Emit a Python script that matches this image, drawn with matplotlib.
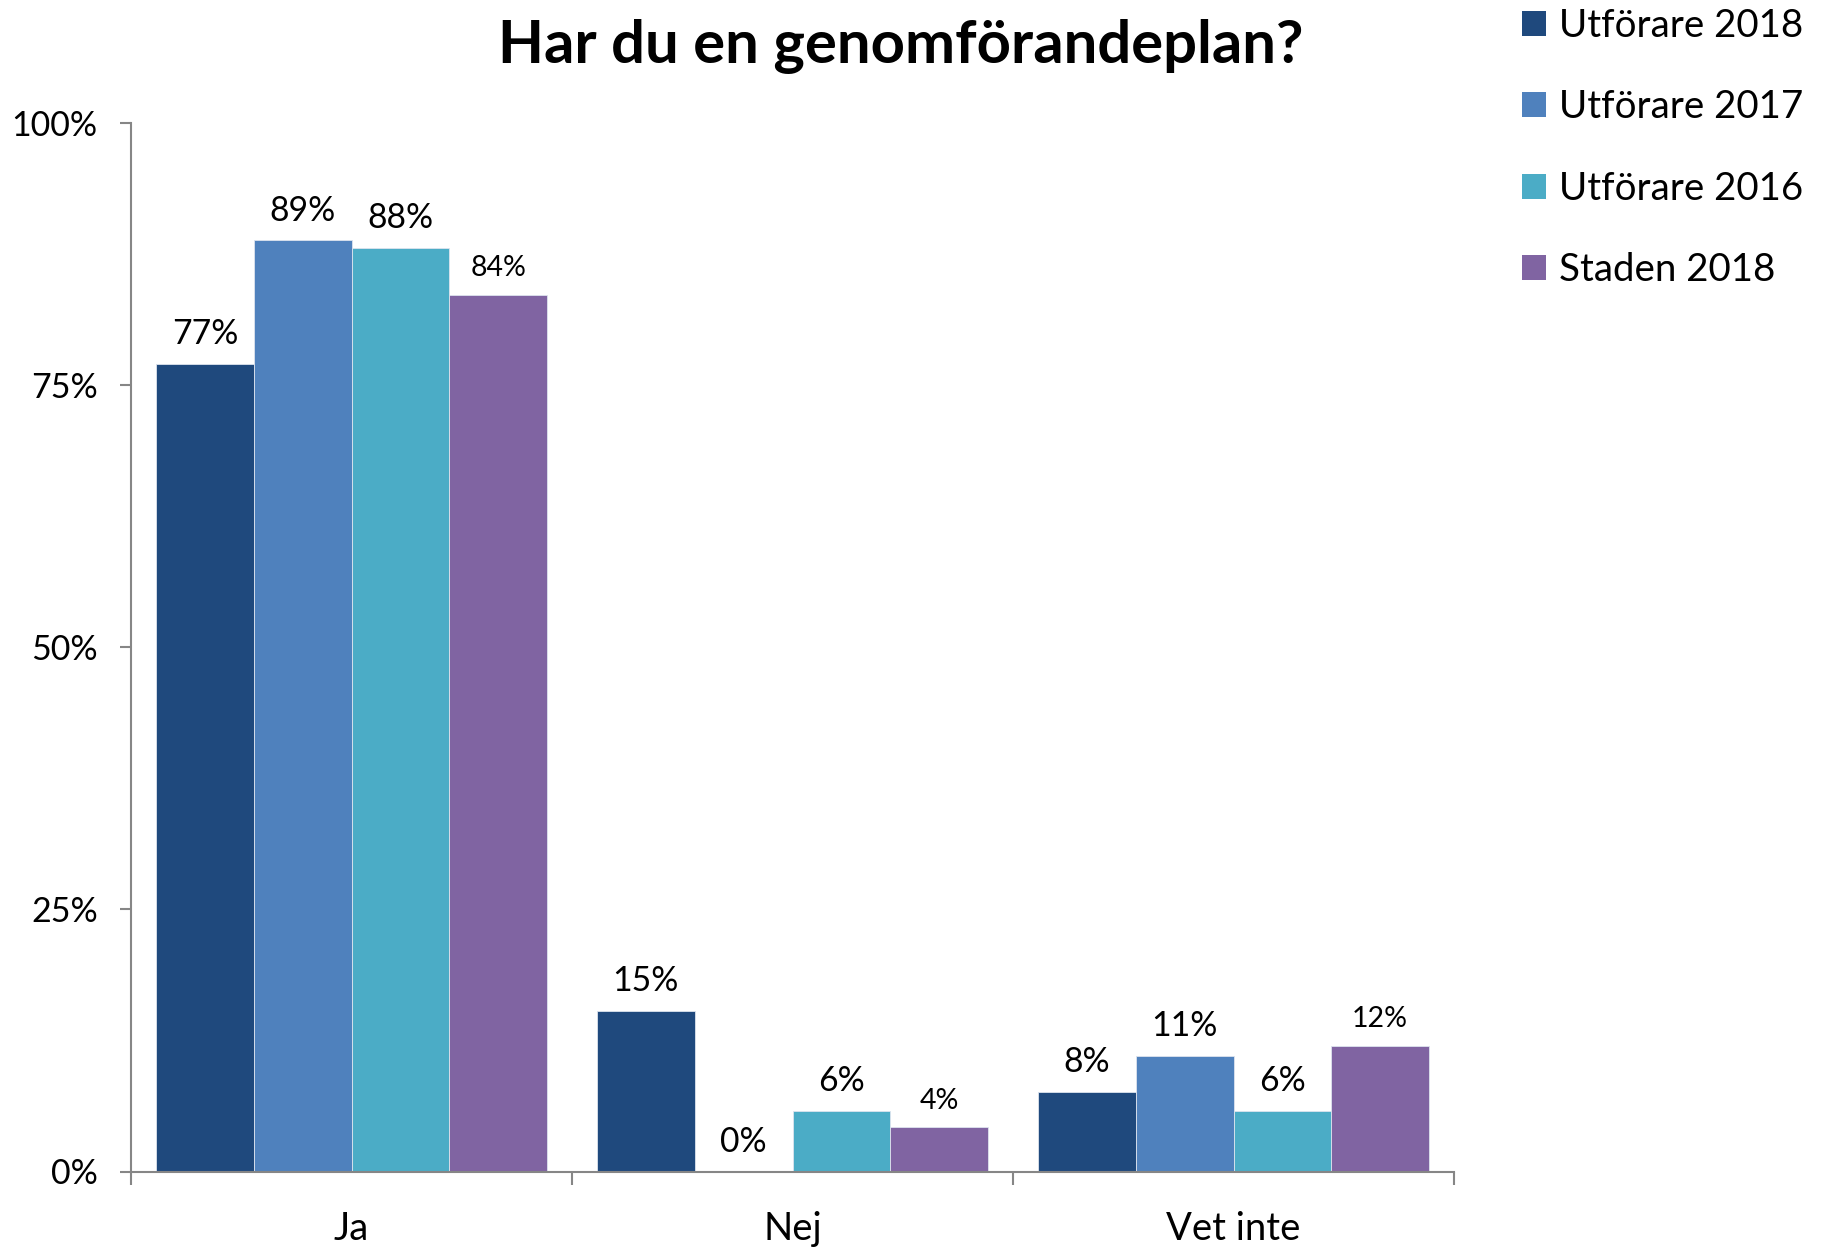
import matplotlib
matplotlib.use("Agg")
import matplotlib.pyplot as plt
import numpy as np

plt.rcParams['font.family'] = ['Lato', 'DejaVu Sans']

title = "Har du en genomförandeplan?"
categories = ["Ja", "Nej", "Vet inte"]
series_names = ["Utförare 2018", "Utförare 2017", "Utförare 2016", "Staden 2018"]
utf_2018 = [0.77, 0.153, 0.076]
utf_2017 = [0.888, 0.0, 0.110]
utf_2016 = [0.881, 0.058, 0.058]
staden_2018 = [0.836, 0.042, 0.120]
labels_2018 = ["77%", "15%", "8%"]
labels_2017 = ["89%", "0%", "11%"]
labels_2016 = ["88%", "6%", "6%"]
labels_staden = ["84%", "4%", "12%"]
yticks = [0, 0.25, 0.5, 0.75, 1.0]
ytick_labels = ["0%", "25%", "50%", "75%", "100%"]

colors = ["#1F497D", "#4F81BD", "#4BACC6", "#8064A2"]

W, H = 1821, 1249
fig = plt.figure(figsize=(W / 100, H / 100), dpi=100)
ax = fig.add_axes([131 / W, 1 - 1171.5 / H, (1454 - 131) / W, (1171.5 - 123) / H])

x = np.arange(len(categories))
bw = 0.2217
data = [utf_2018, utf_2017, utf_2016, staden_2018]
labs = [labels_2018, labels_2017, labels_2016, labels_staden]
for i, (vals, lab) in enumerate(zip(data, labs)):
    bars = ax.bar(x + (i - 1.5) * bw, vals, bw, color=colors[i], edgecolor="#DDE4EE",
                  linewidth=0.6, label=series_names[i], zorder=2)
    fs = 20.5 if i == 3 else 24.3
    ax.bar_label(bars, labels=lab, padding=10, fontsize=fs, color="black")

ax.set_xlim(-0.5, 2.5)
ax.set_ylim(0, 1)
ax.set_yticks(yticks)
ax.set_yticklabels(ytick_labels, fontsize=24.5)
ax.set_xticks(x)
ax.set_xticklabels(categories, fontsize=27.5)
ax.set_xticks([-0.5, 0.5, 1.5, 2.5], minor=True)
ax.tick_params(axis='x', which='major', length=0, pad=28.5)
ax.tick_params(axis='x', which='minor', length=9, width=1.5, color="#868686", direction='out')
ax.tick_params(axis='y', which='major', length=8, width=1.5, color="#868686", pad=16)
for s in ["top", "right"]:
    ax.spines[s].set_visible(False)
for s in ["left", "bottom"]:
    ax.spines[s].set_color("#868686")
    ax.spines[s].set_linewidth(1.5)

fig.text(901 / W, 1 - 46 / H, title, ha="center", va="center", fontsize=43, fontweight="bold")

fs_leg = 27.7
leg = fig.legend(loc="upper left", bbox_to_anchor=(1522 / W, 1 - 8 / H), frameon=False,
                 fontsize=fs_leg, handlelength=0.62, handleheight=0.62, handletextpad=0.35,
                 labelspacing=1.18, borderaxespad=0, borderpad=0)
for h in leg.legend_handles:
    h.set_edgecolor("none")

fig.savefig("out.png", dpi=100)
